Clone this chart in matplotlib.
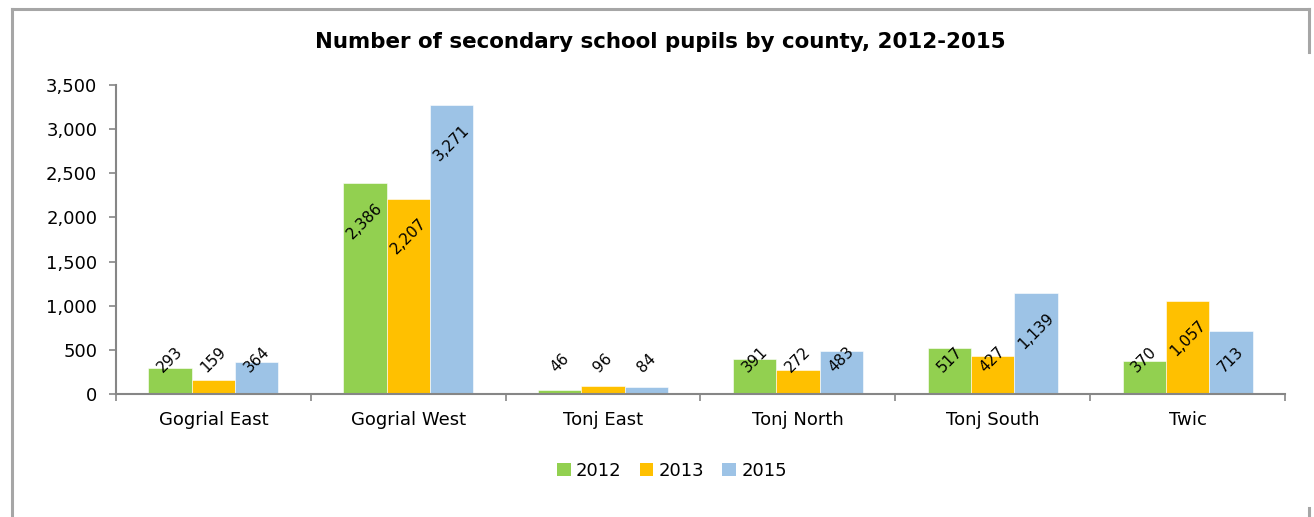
import matplotlib
matplotlib.use("Agg")
import matplotlib.pyplot as plt
from matplotlib.lines import Line2D
from matplotlib.patches import Patch
import numpy as np

counties = ["Gogrial East", "Gogrial West", "Tonj East", "Tonj North", "Tonj South", "Twic"]
years = ["2012", "2013", "2015"]
pupils_2012 = [293, 2386, 46, 391, 517, 370]
pupils_2013 = [159, 2207, 96, 272, 427, 1057]
pupils_2015 = [364, 3271, 84, 483, 1139, 713]
y_ticks = [0, 500, 1000, 1500, 2000, 2500, 3000, 3500]

series = [pupils_2012, pupils_2013, pupils_2015]
colors = ["#92D050", "#FFC000", "#9DC3E6"]
axis_gray = "#868686"

plt.rcParams["font.family"] = ["DejaVu Sans"]

W, H, DPI = 1314, 517, 100
fig = plt.figure(figsize=(W / DPI, H / DPI), dpi=DPI)
fig.patch.set_facecolor("white")

# plot area in pixel terms
left_px, right_px, base_px, top_px = 116, 1285, 394, 85
ax = fig.add_axes([left_px / W, (H - base_px) / H,
                   (right_px - left_px) / W, (base_px - top_px) / H])

x = np.arange(len(counties))
width = 1 / 4.5
offsets = [-width, 0, width]

for vals, off, col, yr in zip(series, offsets, colors, years):
    ax.bar(x + off, vals, width=width, color=col, edgecolor="white",
           linewidth=0.4, label=yr, zorder=2)

ax.set_xlim(-0.5, len(counties) - 0.5)
ax.set_ylim(0, 3500)
ax.set_yticks(y_ticks)
ax.set_yticklabels([f"{v:,}" for v in y_ticks])
ax.set_xticks(x)
ax.set_xticklabels(counties)
ax.set_xticks(np.arange(-0.5, len(counties)), minor=True)

for s in ["top", "right"]:
    ax.spines[s].set_visible(False)
for s in ["left", "bottom"]:
    ax.spines[s].set_color(axis_gray)
    ax.spines[s].set_linewidth(1.5)

ax.tick_params(axis="y", length=5, width=1.2, color=axis_gray, pad=8.5,
               labelsize=13, labelcolor="black")
ax.tick_params(axis="x", which="major", length=0, pad=12, labelsize=13,
               labelcolor="black")
ax.tick_params(axis="x", which="minor", length=5, width=1.2, color=axis_gray)

fig.text(660 / W, (H - 42) / H,
         "Number of secondary school pupils by county, 2012-2015",
         ha="center", va="center", fontsize=15.4, fontweight="bold")

# value labels: inside end, lifted to a minimum height for short bars
labels = []
for vals, off in zip(series, offsets):
    for xi, v in zip(x, vals):
        t = ax.annotate(f"{v:,}", xy=(xi + off, v), xytext=(0, -12),
                        textcoords="offset points", ha="center", va="top",
                        rotation=45, fontsize=11, zorder=3)
        labels.append((t, xi + off))

fig.canvas.draw()
renderer = fig.canvas.get_renderer()
base_disp = ax.transData.transform((0, 0))[1]
min_gap = 19  # pixels above the axis
for t, xc in labels:
    bb = t.get_window_extent(renderer)
    if bb.y0 < base_disp + min_gap:
        t.xy = (xc, 0)
        t.set_va("bottom")
        t.set_position((0, min_gap * 72 / DPI))

# legend
handles = [Patch(facecolor=c, edgecolor="none") for c in colors]
fig.legend(handles, years, loc="center", bbox_to_anchor=(672 / W, (H - 471) / H),
           ncol=3, frameon=False, fontsize=13, handlelength=0.75,
           handleheight=0.75, handletextpad=0.3, columnspacing=1.0)

# outer chart frame
frame_col = "#A6A6A6"
lw = 2.2
fig.add_artist(Line2D([12 / W, 12 / W], [0, (H - 9) / H], color=frame_col,
                      lw=lw, transform=fig.transFigure))
fig.add_artist(Line2D([12 / W, 1309 / W], [(H - 9) / H, (H - 9) / H],
                      color=frame_col, lw=lw, transform=fig.transFigure))
fig.add_artist(Line2D([1309 / W, 1309 / W], [(H - 9) / H, (H - 52) / H],
                      color=frame_col, lw=lw, transform=fig.transFigure))
fig.add_artist(Line2D([1309 / W, 1309 / W], [(H - 508) / H, 0],
                      color=frame_col, lw=lw, transform=fig.transFigure))

fig.savefig("out.png", dpi=DPI)
